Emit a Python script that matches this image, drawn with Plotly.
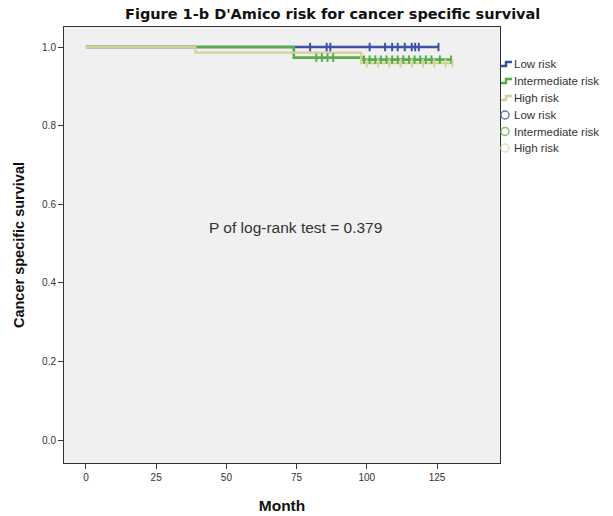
import numpy as np
import plotly.graph_objects as go

# ---- data ----
groups = ["Low risk", "Intermediate risk", "High risk"]
low_t = [0, 125.5]
low_s = [1.0, 1.0]
int_t = [0, 74, 98.5, 130]
int_s = [1.0, 0.973, 0.968, 0.968]
high_t = [0, 39, 98, 130.5]
high_s = [1.0, 0.986, 0.959, 0.959]
low_cens = [79.8, 85.7, 87, 101, 106.5, 109, 111, 113.5, 116, 117.2, 118.5, 125.5]
int_cens = [82, 84, 86, 88, 99, 101, 103, 105, 107, 109, 111, 113, 115, 117, 119, 121, 123, 126, 130]
high_cens = [100, 104, 108, 112, 116, 120, 124, 128, 130.5]
x_ticks = [0, 25, 50, 75, 100, 125]
y_ticks = [0.0, 0.2, 0.4, 0.6, 0.8, 1.0]
p_text = "P of log-rank test = 0.379"
title_text = "Figure 1-b D'Amico risk for cancer specific survival"

line_colors = ["#3d52a6", "#55ad4c", "#d8cf92"]
circle_colors = ["#6677b8", "#77bf6c", "#e3dfb8"]
widths = [2.6, 2.6, 2.2]

W, H = 613, 516
ML, MR, MT, MB = 64, 113, 27, 53
PW, PH = W - ML - MR, H - MT - MB


def px_x(p):
    return (p - ML) / PW


def px_y(p):
    return (H - MB - p) / PH


series = [(low_t, low_s, low_cens), (int_t, int_s, int_cens), (high_t, high_s, high_cens)]

fig = go.Figure()
for (t, s, c), name, col, w in zip(series, groups, line_colors, widths):
    fig.add_trace(go.Scatter(x=t, y=s, mode="lines", line=dict(color=col, width=w, shape="hv"),
                             name=name, showlegend=False))
for (t, s, c), name, col in zip(series, groups, line_colors):
    idx = np.searchsorted(np.array(t), np.array(c), side="right") - 1
    cy = np.array(s)[idx]
    fig.add_trace(go.Scatter(x=c, y=cy, mode="markers",
                             marker=dict(symbol="line-ns-open", size=6, color=col,
                                         line=dict(color=col, width=2)),
                             name=name, showlegend=False))

# ---- legend drawn by hand (SPSS style) ----
shapes = []
annotations = []
row_y = [64, 81, 98, 115, 131.5, 148]
labels = groups + groups
for i, (lab, yy) in enumerate(zip(labels, row_y)):
    if i < 3:
        col = line_colors[i]
        path = "M {a},{b} L {c},{b} L {c},{d} L {e},{d}".format(
            a=px_x(501), b=px_y(yy + 2), c=px_x(506), d=px_y(yy - 2), e=px_x(512))
        shapes.append(dict(type="path", xref="paper", yref="paper", path=path,
                           line=dict(color=col, width=2.4)))
    else:
        col = circle_colors[i - 3]
        shapes.append(dict(type="circle", xref="paper", yref="paper",
                           x0=px_x(501), x1=px_x(509), y0=px_y(yy + 4), y1=px_y(yy - 4),
                           line=dict(color=col, width=1.5)))
    annotations.append(dict(x=px_x(511.5), y=px_y(yy), xref="paper", yref="paper", text=lab,
                            xanchor="left", yanchor="middle", showarrow=False,
                            font=dict(family="Liberation Sans, Arial", size=11.5, color="#333333")))

annotations.append(dict(x=74.5, y=0.54, xref="x", yref="y", text=p_text, showarrow=False,
                        font=dict(family="Liberation Sans, Arial", size=15.5, color="#333333")))
annotations.append(dict(x=px_x(332), y=px_y(14), xref="paper", yref="paper", yanchor="middle",
                        text="<b>" + title_text + "</b>", showarrow=False,
                        font=dict(family="DejaVu Sans", size=14.5, color="#111111")))

fig.update_layout(
    width=W, height=H,
    margin=dict(l=ML, r=MR, t=MT, b=MB, autoexpand=False),
    showlegend=False,
    shapes=shapes, annotations=annotations,
    paper_bgcolor="white", plot_bgcolor="#f0f0f0",
    font=dict(family="Liberation Sans, Arial", size=10, color="#333333"),
    xaxis=dict(range=[-7.8, 147.4], tickvals=x_ticks, ticks="outside", ticklen=5, tickcolor="#333",
               showgrid=False, zeroline=False, showline=True, linecolor="#333", linewidth=1, mirror=True,
               automargin=False,
               title=dict(text="<b>Month</b>", font=dict(size=15.5, color="#111111"), standoff=18)),
    yaxis=dict(range=[-0.058, 1.051], tickvals=y_ticks, tickformat=".1f", ticks="outside", ticklen=5,
               tickcolor="#333", showgrid=False, zeroline=False, showline=True, linecolor="#333",
               linewidth=1, mirror=True, automargin=False,
               title=dict(text="<b>Cancer specific survival</b>", font=dict(size=14.5, color="#111111"),
                          standoff=14)),
)

fig.write_html("out.html")
